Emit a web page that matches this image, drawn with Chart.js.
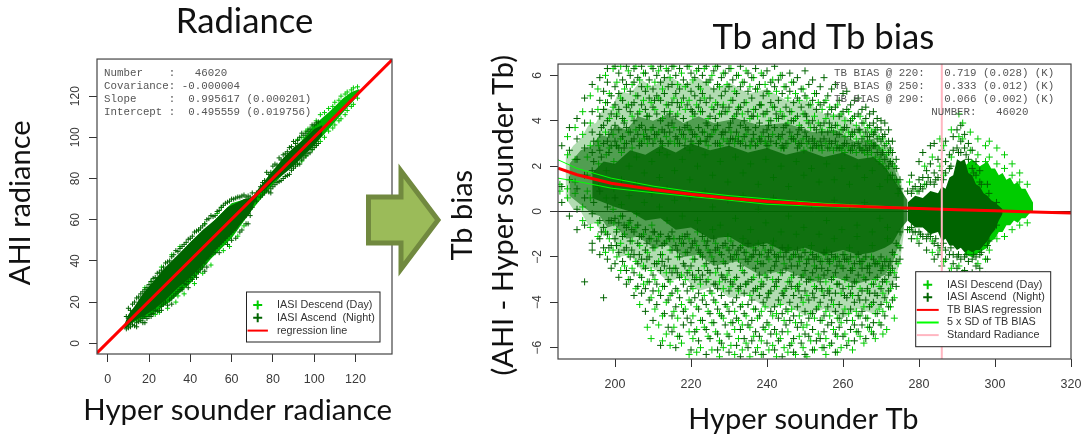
<!DOCTYPE html>
<html>
<head>
<meta charset="utf-8">
<title>Radiance and Tb bias</title>
<script src="https://cdn.jsdelivr.net/npm/chart.js@4/dist/chart.umd.min.js"></script>
<style>
    html, body { margin: 0; padding: 0; background: #fff; }
    body { position: relative; width: 1081px; height: 434px; overflow: hidden; }
    canvas { position: absolute; top: 0; }
    #radianceChart { left: 0; }
    #biasChart { left: 440px; }
    #arrow { position: absolute; left: 360px; top: 160px; }
</style>
</head>
<body>
<canvas id="radianceChart" width="400" height="434"></canvas>
<canvas id="biasChart" width="641" height="434"></canvas>
<svg id="arrow" width="90" height="120"><path d="M8.5 37 H41 V11 L78 60 L41 109 V83 H8.5 Z" fill="#9bbb59" stroke="#71893f" stroke-width="5"/></svg>
<script>
// left panel, axes
const radianceTicks = [0, 20, 40, 60, 80, 100, 120];
// regression line
const regressionX = [-5.2, 137.8];
const regressionY = [-4.7, 137.7];
// left panel, outline of the solid cloud
const nightBandX = [8, 10, 13, 17, 22, 28, 34, 40, 46, 52, 58, 62, 66, 69, 71, 73, 77, 81, 85, 90, 95, 100, 104];
const nightBandUp = [9, 14, 18, 24, 30, 37, 43, 49, 55, 60, 66, 68, 70, 70.5, 72, 75, 80, 85, 90, 95, 99, 104, 106];
const nightBandLow = [7, 8, 11, 13, 16, 21, 27, 32, 38, 45, 51, 55, 60, 63, 68, 72, 75, 79, 82, 86, 91, 96, 101];
const dayBandX = [12, 20, 30, 40, 50, 60, 70, 80, 92, 100, 108, 114, 118, 122];
const dayBandUp = [16, 27, 38, 49, 58, 68, 71, 84, 96, 106, 113, 119, 122, 123.5];
const dayBandLow = [10, 13, 20, 29, 41, 51, 65, 77, 89, 96, 105, 112, 116.5, 121];
// left panel, crosses along the rim of the cloud, one row per column: x, then y
const radianceDayRim = [
    [18,27],[21,30],[26,37],[31,43],[35,47],[44,55],[47,58],[53,63],[55,66],[23,14],[29,17],[34,23],[37,24],[42,29],[46,34],[50,38],[56,45],[59,47],[63,52],[66,57],
    [92,99,87],[94,100,88.5],[96,103,91],[97,104],[99,105,94],[101,108,96],[103,111,98],[105,112,100],[107,114,103],[109,115,104.5],[110,117,106],[112,118,108],[113,120,109],[115,121,111],[116,122,113],[118,123,115],[119,124,116],[121,124.5,119],[33,20],[25,15]
];
const radianceNightRim = [
    [9,13,7],[10,17,7.5],[11,16,8],[12,19,9],[13,20,8.5],[14,22,8,10],[15,22.5,10.5],[16,21,24,11],[17,25,10,12],[18,26,10,13],[19,27,12],[20,28.5,13],[21,30,13,14],[22,31.5,14.5],[23,32,16],[24,34,15.5],[25,34.5,16],[26,35.5,16,18],[27,37,19],[28,39,20],[29,39.5,18.5],[30,40,21],[31,42,19,22],[32,43,23],[33,45,24],[34,44.5,25],[35,46,26],[36,47,26,27],[37,48,29],[38,49,28.5],[39,50.5,27,30],[40,51,32],[41,52,31],[42,54,33],[43,54.5,32,35],[44,55,34.5],[45,56,36],[46,57,37],[47,58,35,39],[48,60,37,41],[49,60.5,42],[50,62,43],[51,61.5,44],[52,62,44,46],[53,64,47],[54,64.5,44,48],[55,66,49],[56,67,50],[57,68,51],[58,68.5,48,52],[59,69,53],[60,70,50,54],[61,70,55],[62,70.5,51,56],[63,71,58],[64,71,54,59],[65,71.5,55,60],[66,72,61],[67,71,58,62],[68,71.5,58,64],[69,71,62],[70,73,66],[72,73,69],[74,76,71],[75,78,72],[76,79,73],[77,83,74],[78,82,73.5],[79,83,73,75],[80,86,76],[81,87,77],[82,86.5,78],[83,90,78.5],[84,89,79],[85,91.5,80],[86,92,81],[87,93,81.5],[88,95,82],[89,95.5,84],[90,98,85],[91,97,86],[92,98.5,87],[93,100,87],[94,102,89],[95,101,90],[96,102,91],[97,103,92],[98,104,92.5],[99,106,94],[100,106,95],[101,107,96],[102,107.5,97]
];
// right panel, axes
const biasXTicks = [200, 220, 240, 260, 280, 300, 320];
const biasYTicks = [-6, -4, -2, 0, 2, 4, 6];
// regression curve and its spread
const curveX = [185, 190, 199, 210, 220, 230, 240, 255, 262, 270, 280, 286, 290, 300, 310, 320];
const curveY = [1.91, 1.62, 1.25, 0.97, 0.76, 0.59, 0.44, 0.29, 0.24, 0.19, 0.13, 0.1, 0.08, 0.03, -0.02, -0.06];
const spreadUp = [2.28, 1.9, 1.47, 1.12, 0.88, 0.7, 0.56, 0.36, 0.3, 0.23, 0.15, 0.11, 0.09, 0.04, -0.01, -0.05];
const spreadLow = [1.47, 1.33, 1.03, 0.83, 0.66, 0.5, 0.32, 0.22, 0.18, 0.15, 0.11, 0.09, 0.07, 0.02, -0.03, -0.07];
// standard radiance marker and zero line
const standardTb = [286, 286];
const standardY = [-6.5, 6.5];
const zeroX = [185, 320];
const zeroY = [0, 0];
// right panel, rough outline of the dense parts of the cloud
const hazeX = [187, 189, 191, 193, 195, 197, 199, 201, 204, 207, 210, 214, 218, 222, 226, 230, 235, 240, 245, 250, 255, 260, 264, 268, 271, 273, 275, 276];
const hazeUp = [2.4, 2.9, 3.2, 3.8, 3.9, 4.6, 4.5, 5.3, 5.2, 5.8, 5.5, 6, 5.6, 5.9, 5.4, 5.7, 5.2, 5.4, 4.9, 4.9, 4.3, 4.3, 3.7, 3.7, 3, 2.5, 1.5, 0.8];
const hazeLow = [0.6, 0.1, 0, -0.6, -0.5, -1.1, -1, -2, -1.9, -2.6, -2.5, -3.1, -2.9, -3.5, -3.3, -3.8, -3.7, -4.3, -4.1, -4.6, -4.3, -4.7, -4.3, -4.5, -4, -3.4, -2.2, -1];
const midX = [188, 191, 194, 196, 198, 200, 203, 206, 210, 214, 218, 222, 226, 232, 238, 245, 252, 258, 263, 268, 271, 273, 275, 276];
const midUp = [2.1, 2.7, 2.9, 3.4, 3.3, 3.8, 3.6, 4.2, 4, 4.3, 3.9, 4.2, 3.9, 4.1, 3.8, 3.9, 3.5, 3.6, 3.1, 3.2, 2.6, 2.1, 1.2, 0.7];
const midLow = [0.7, 0.3, -0.1, -0.2, -0.7, -0.6, -1.2, -1.1, -1.6, -1.5, -2, -1.9, -2.4, -2.2, -2.8, -2.6, -3.1, -2.9, -3.2, -3, -2.8, -2.3, -1.3, -0.8];
const coreX = [194, 197, 200, 204, 208, 212, 216, 220, 225, 230, 235, 240, 245, 250, 255, 260, 264, 268, 271, 273, 275, 277];
const coreUp = [1.7, 2.2, 2.1, 2.7, 2.5, 2.9, 2.6, 3, 2.7, 2.9, 2.6, 2.8, 2.5, 2.7, 2.4, 2.6, 2.3, 2.4, 2, 1.5, 1, 0.5];
const coreLow = [0.6, 0.4, 0.2, 0, -0.4, -0.3, -0.8, -0.7, -1.2, -1.1, -1.6, -1.4, -1.8, -1.6, -1.9, -1.7, -1.9, -1.8, -1.6, -1.4, -0.8, -0.4];
const warmNightX = [277, 279, 281, 283, 285, 286, 287, 288, 289, 290, 291, 292, 293, 294, 295, 296, 297, 298, 299, 300, 301, 302];
const warmNightUp = [0.4, 0.7, 0.6, 0.9, 0.8, 1.1, 1, 1.5, 1.6, 2.3, 2.2, 2.3, 1.7, 1.6, 1.2, 1.1, 0.8, 0.7, 0.5, 0.4, 0.25, 0.1];
const warmNightLow = [-0.4, -0.7, -0.7, -1, -0.9, -1.3, -1.2, -1.5, -1.5, -1.7, -1.6, -1.8, -1.7, -1.8, -1.7, -1.7, -1.5, -1.3, -1, -0.8, -0.4, -0.1];
const warmDayX = [292, 294, 296, 298, 299, 300, 301, 302, 303, 304, 305, 306, 307, 308, 309, 310];
const warmDayUp = [2, 2.3, 2, 2.2, 1.9, 1.9, 1.6, 1.7, 1.4, 1.5, 1.2, 1.3, 1, 1, 0.7, 0.4];
const warmDayLow = [-1.9, -2, -1.8, -1.6, -1.3, -1.2, -0.9, -0.9, -0.6, -0.6, -0.4, -0.5, -0.3, -0.3, -0.1, 0];
// right panel crosses, one row per Tb column: x, then the biases seen there
const biasNightColumns = [
    [186,2.9,1.1,0.4],[188,3.7,2.7,1.4,-0.2],[190,4.1,3.2,2.3,1,0.1,-0.8],[192,5,3.9,2.8,1.6,0.6,-0.6,-3.1],
    [194,5.6,4.4,3.5,2.6,1.8,-0.1,-1.4,-1.7],[196,5.9,4.9,4.2,3.4,2.7,0.9,-0.4,-1.2,-1.9],[197,5.3,4.5,3.8,3,-0.7,-1.6,-3.8],
    [198,6.3,5.7,4.8,4,3.1,0.2,-1,-2.1],[199,5.1,4.3,3.6,2.9,-0.4,-1.5,-2.5],[200,6.4,5.5,4.7,3.8,3.1,0.6,-0.3,-1.2,-2.3],
    [201,6.1,5.2,4.5,3.6,2.8,-0.5,-1.8,-2.9],[202,5.8,4.9,4.1,3.3,-0.2,-1.1,-2.2],[203,6.4,5.6,4.6,3.7,3,-0.7,-1.6,-2.6,-3.2],
    [204,6,5.3,4.4,3.5,-0.4,-1.3,-2,-3],[205,6.3,5.7,4.8,4,3.2,-0.9,-1.9,-2.7,-3.7],[206,5.9,5.1,4.3,3.4,-0.6,-1.4,-2.3,-3.3],
    [207,6.4,5.5,4.7,3.8,3,-1.1,-2.1,-2.9,-3.6],[208,6.1,5.3,4.5,3.6,-0.8,-1.7,-2.5,-3.4,-4.4],[209,5.8,5,4.2,3.2,-1.2,-2,-3.1,-3.9],
    [210,6.3,5.4,4.6,3.7,3,-0.9,-1.6,-2.8,-3.5,-4.8],[211,6,5.1,4.3,3.4,-1.3,-2.3,-3.2,-4.1],[212,6.4,5.7,4.9,4,3.1,-1,-1.9,-2.6,-3.7,-5.9],
    [213,5.9,5.2,4.4,3.5,-1.4,-2.4,-3.3,-4.5],[214,6.2,5.5,4.7,3.8,3,-1.1,-2.1,-3,-3.9,-5.1],[215,6.4,5.6,4.8,3.9,-0.9,-1.7,-2.7,-3.6,-4.6,-5.3],
    [216,6,5.2,4.2,3.3,-1.5,-2.5,-3.4,-4.2,-6],[217,6.3,5.4,4.6,3.6,3,-1.2,-2,-2.9,-3.8,-5.5],[218,5.8,5,4.1,3.4,-1.4,-2.3,-3.2,-4.4,-5],
    [219,6.4,5.6,4.7,3.8,-1,-1.8,-2.7,-3.5,-4.7],[220,6.1,5.3,4.5,3.6,3.1,-1.6,-2.4,-3.3,-4,-4.9,-6.1],[221,5.9,5.1,4.3,3.4,-1.3,-2.1,-3,-3.8,-5.3],
    [222,6.3,5.5,4.6,3.7,3,-1.7,-2.6,-3.6,-4.3,-5.7],[223,6,5.2,4.4,3.5,-1.1,-2,-2.8,-3.9,-4.8],[224,6.4,5.7,4.8,3.9,3.1,-1.5,-2.3,-3.1,-4.1,-5.2,-6.3],
    [225,5.8,5,4.2,3.3,-1.8,-2.7,-3.5,-4.5,-5.6],[226,6.2,5.4,4.5,3.6,-1.2,-2.2,-3.2,-3.9,-4.9],[227,6.4,5.6,4.7,3.8,3,-1.6,-2.5,-3.4,-4.3,-5.4,-6.1],
    [228,5.9,5.1,4.3,3.4,-1.9,-2.8,-3.7,-4.6,-5.8],[229,6.1,5.3,4.4,3.5,-1.4,-2.3,-3,-4.1,-5],[230,6.3,5.5,4.6,3.7,3,-1.7,-2.6,-3.5,-4.4,-5.5,-6.2],
    [231,5.8,4.9,4.1,3.2,-1.5,-2.1,-3.2,-4,-4.9],[232,6,5.2,4.3,3.5,-1.9,-2.9,-3.8,-4.7,-5.9],[233,6.4,5.5,4.6,3.8,3,-1.6,-2.4,-3.3,-4.2,-5.2,-6.4],
    [234,5.7,4.8,4,3.3,-1.8,-2.7,-3.6,-4.5,-5.6],[235,6.1,5.3,4.4,3.6,-1.4,-2.2,-3.1,-4.1,-5,-6],[236,5.9,5,4.2,3.1,-2,-3,-3.9,-4.8,-5.7],
    [237,6.3,5.4,4.5,3.7,2.9,-1.7,-2.5,-3.4,-4.3,-5.3,-6.2],[238,5.6,4.7,3.9,3.2,-1.9,-2.8,-3.7,-4.6,-5.5],[239,6,5.1,4.3,3.5,-1.5,-2.3,-3.2,-4,-5.1,-6.3],
    [240,6.2,5.3,4.4,3.6,2.9,-2,-2.9,-3.8,-4.9,-5.8],[241,5.7,4.8,4,3.1,-1.7,-2.6,-3.5,-4.4,-5.4],[242,6.4,5.5,4.6,3.7,-1.9,-2.4,-3.3,-4.2,-5.2,-6.1],
    [243,5.8,4.9,4.1,3.3,-2,-3,-3.9,-4.7,-5.7],[244,6,5.2,4.2,3.4,2.9,-1.6,-2.7,-3.6,-4.5,-5.3,-6.4],[245,5.5,4.6,3.8,3,-1.8,-2.5,-3.4,-4.3,-5],
    [246,6.1,5.3,4.4,3.5,-2.1,-3.1,-4,-4.8,-5.9],[247,5.7,4.8,4,3.2,-1.9,-2.8,-3.7,-4.6,-5.6,-6.2],[248,5.9,5,4.2,3.4,2.8,-1.7,-2.4,-3.3,-4.2,-5.1],
    [249,5.4,4.6,3.7,3,-2,-2.9,-3.8,-4.9,-5.8],[250,6.2,5.1,4.3,3.5,-1.8,-2.6,-3.5,-4.4,-5.4,-6.3],[251,5.6,4.7,3.9,3.1,-2.1,-3,-3.9,-4.7,-5.5],
    [252,5.8,4.9,4,3.2,2.8,-1.9,-2.7,-3.6,-4.5,-5.2,-6.1],[253,5.2,4.5,3.6,2.9,-2,-2.5,-3.4,-4.3,-5.7],[254,5.5,4.7,3.8,3.1,-2.2,-3.1,-4,-4.8,-5.6],
    [255,5.9,4.8,3.9,3.2,-1.8,-2.8,-3.7,-4.6,-5.3,-6],[256,5.1,4.3,3.5,2.8,-2.1,-2.6,-3.5,-4.2,-5],[257,5.4,4.5,3.7,3,-1.9,-3,-3.9,-4.9,-5.8],
    [258,5.6,4.6,3.8,3.1,-2,-2.7,-3.6,-4.4,-5.4,-6.2],[259,4.9,4.2,3.4,2.8,-2.2,-3.2,-4.1,-4.7,-5.1],[260,5.2,4.4,3.6,2.9,-1.9,-2.5,-3.4,-4.5,-5.5],
    [261,5.3,4.5,3.7,3,-2.1,-2.9,-3.8,-4.8,-5.9],[262,4.7,4,3.3,2.7,-2,-2.6,-3.6,-4.3,-5.2],[263,4.9,4.2,3.5,2.9,-2.3,-3.1,-4,-5,-5.7],
    [264,5,4.3,3.6,3,-1.9,-2.8,-3.7,-4.6,-5.3],[265,4.5,3.9,3.2,2.7,-2.2,-2.5,-3.5,-4.4,-5],[266,4.6,4.1,3.5,2.9,-2,-3,-3.9,-4.7,-5.6],
    [267,4.3,3.8,3.3,2.8,-2.4,-2.7,-3.6,-4.2,-5.1],[268,4.4,3.9,3.4,2.9,-2.1,-3.2,-4,-4.9,-5.4],[269,4.1,3.7,3.2,2.6,-2.3,-2.9,-3.7,-4.5],
    [270,4,3.6,3.1,2.5,-2,-2.6,-3.4,-4.1,-5],[271,3.9,3.4,2.9,2.3,-2.2,-3,-3.8,-4.6],[272,3.6,3.1,2.6,2,-2.4,-2.8,-3.5,-4.2],
    [273,3.1,2.6,2.1,1.6,-1.8,-2.5,-3.2,-3.9],[274,2.3,1.9,1.4,-1.4,-2.2,-2.9,-3.3],[275,1.4,1,-0.9,-1.6,-2.1],
    [277,0.9,-0.8],[278,1.6,0.8,-0.7,-1.2],[279,1.1,-0.9],[280,2.2,1.4,0.9,-0.9,-1.4],[281,2.6,1.5,1,-1.1],[282,1.8,1.2,-1.2,-1.7],[283,2.9,2.1,1.3,-1.1],
    [284,3,1.7,1.2,-1.4,-2.1],[285,2.3,1.5,-1.5,-1.9],[286,2.7,1.8,-1.6,-2.4],[287,3.1,2.2,1.7,-1.7,-2.1],[288,2.5,1.9,-1.9,-2.7,-3],
    [289,3.3,2.7,-1.9,-2.3],[290,3.6,2.8,-2,-2.5,-3.1],[291,3.8,3.1,2.6,-2.1,-2.8],[292,3.4,2.8,-2,-2.6],[293,3,2.3,-2.2,-3],
    [294,2.7,1.9,-2.1,-2.7],[295,2.2,1.6,-2,-2.4],[296,1.8,1.3,-1.9,-2.5],[298,1.2,-1.5,-2.1]
];
const biasDayColumns = [
    [185.5,1.2,0.9],[187.5,3.3,2.5,1,0.6],[189.5,3.7,2.3,1.3,0.8],[191.5,4.4,3.4,0.2,-0.4],[193.5,5.1,3.9,2.9,0.6,-0.7],
    [195.5,5.4,4.5,3.1,-0.5,-1.1],[197.5,6,4.8,3.5,-0.9,-1.8],[198.5,5.2,4.1,2.8,-1.2],[199.5,6.3,4.6,3.4,0.1,-1.7],[200.5,5.7,4.3,2.9,-0.8,-2],
    [201.5,6.4,5,3.2,-0.2,-1.4,-2.6],[202.5,5.4,4,3,-1,-2.4],[203.5,6.2,4.7,3.5,-0.6,-1.9,-3],[204.5,5.6,4.2,2.8,-1.3,-2.5],[205.5,6.4,5.1,3.6,-0.7,-2.2,-3.4],
    [206.5,5.8,4.4,3.1,-1.5,-2.8,-4.1],[207.5,6.1,4.9,3.4,-1,-2.4,-3.2],[208.5,5.5,4.2,3,-1.8,-3.1,-5.1],[209.5,6.4,4.8,3.6,-1.2,-2.6,-3.8,-5.6],[210.5,5.7,4.5,3.2,-1.6,-3,-4.3],
    [211.5,6.2,5,3.5,-1.1,-2.2,-3.5,-5],[212.5,5.4,4.1,2.9,-1.9,-3.3,-4.6,-5.7],[213.5,6.3,4.7,3.3,-1.3,-2.7,-4,-5.4],[214.5,5.9,4.4,3.1,-1.7,-3.1,-3.7,-5.9],[215.5,6.4,5,3.7,-1.2,-2.5,-4.4,-5.1],
    [216.5,5.6,4.3,3,-2,-3.5,-4.7,-5.5],[217.5,6.1,4.8,3.4,-1.4,-2.8,-4.1,-5.8],[218.5,5.5,4.5,3.2,-1.8,-3,-4.3],[219.5,6.4,4.9,3.6,-1.2,-2.6,-3.9,-5.3,-6.3],[220.5,5.8,4.2,3,-2.1,-3.4,-4.6,-5.6],
    [221.5,6.2,4.7,3.3,-1.5,-2.9,-4.2,-5.2,-6.2],[222.5,5.4,4.4,3.1,-1.9,-3.2,-4.8,-6],[223.5,6.3,5,3.5,-1.3,-2.4,-3.7,-5.1],[224.5,5.7,4.1,2.9,-1.7,-3,-4.4,-5.5],[225.5,6,4.6,3.4,-2,-3.6,-4.9,-6.1],
    [226.5,6.4,4.8,3.6,-1.4,-2.7,-4,-5.3],[227.5,5.5,4.3,3,-1.8,-3.1,-4.5,-5.7,-6.4],[228.5,6.1,4.7,3.2,-2.2,-3.4,-4.7,-6],[229.5,5.6,4.4,3.1,-1.6,-2.8,-4.2,-5.4],[230.5,6.3,4.9,3.5,-1.3,-3.3,-4.9,-5.9],
    [231.5,5.3,4.2,3,-1.9,-3,-4.4,-5.2,-6.3],[232.5,6,4.6,3.3,-2.1,-3.5,-4.8,-5.6],[233.5,5.7,4.3,3.1,-1.5,-2.6,-4.1,-5,-6.1],[234.5,6.2,4.8,3.4,-1.8,-3.2,-4.6,-5.8],[235.5,5.5,4.1,2.9,-2,-3.7,-5.1,-6.4],
    [236.5,5.9,4.5,3.2,-1.6,-2.9,-4.3,-5.5],[237.5,5.4,4.2,3,-2.2,-3.4,-4.7,-6],[238.5,6.1,4.7,3.3,-1.9,-3.1,-4.4,-5.7,-6.3],[239.5,5.6,4.3,3.1,-1.7,-2.8,-4.2,-5.2],[240.5,5.2,4,2.9,-2.1,-3.6,-5,-6.1],
    [241.5,5.8,4.6,3.4,-1.5,-3,-4.6,-5.9],[242.5,5.3,4.1,3,-2,-3.3,-4.5,-5.4,-6.4],[243.5,6,4.4,3.2,-1.8,-2.7,-4.1,-5.6],[244.5,5.5,4.2,2.8,-2.3,-3.5,-4.8,-6],[245.5,5,3.9,3,-1.6,-3.1,-4.4,-5.3,-6.2],
    [246.5,5.7,4.4,3.3,-2,-2.9,-4.3,-5.8],[247.5,5.2,4.1,3.1,-1.9,-3.4,-4.9,-6.3],[248.5,4.9,3.8,2.9,-2.2,-3.2,-4.6,-5.5],[249.5,5.4,4.3,3.2,-1.7,-2.8,-4,-5.1,-6],[250.5,5,4,3,-2.1,-3.7,-5,-6.4],
    [251.5,4.7,3.7,2.8,-1.8,-3,-4.5,-5.7],[252.5,5.2,4.2,3.1,-2.4,-3.3,-4.7,-6.1],[253.5,4.8,3.9,2.9,-2,-2.9,-4.2,-5.4],[254.5,4.5,3.6,2.7,-2.2,-3.5,-4.8,-6],[255.5,4.9,4.1,3,-1.9,-3.1,-4.4,-5.6,-6.3],
    [256.5,4.6,3.7,2.8,-2.3,-3.4,-4.6,-5.9],[257.5,4.2,3.5,2.7,-2.1,-2.9,-4.1,-5.2],[258.5,4.7,3.8,2.9,-2,-3.2,-4.7,-5.5,-6.2],[259.5,4.3,3.6,2.8,-2.4,-3.6,-4.9,-6],[260.5,4,3.3,2.6,-1.9,-3,-4.3,-5.4],
    [261.5,4.4,3.5,2.8,-2.2,-3.3,-4.5,-5.7],[262.5,4.1,3.4,2.7,-2.5,-3.7,-4.8,-6.1],[263.5,3.8,3.2,2.6,-2,-3.1,-4.4,-5.3],[264.5,4.2,3.5,2.8,-2.3,-3.4,-4.6,-5.5],[265.5,3.9,3.3,2.7,-2.1,-2.9,-4.2,-5.8],
    [266.5,3.7,3.1,2.5,-2.4,-3.5,-4.7,-5.1],[267.5,3.5,3,2.6,-2,-3.2,-4.1,-5.3],[268.5,3.6,2.9,2.4,-2.3,-3,-4.5,-5.6],[269.5,3.3,2.8,2.2,-2.2,-3.3,-4.3,-4.9],[270.5,3.2,2.7,2.1,-2.5,-3.6,-4.4,-5.4],
    [271.5,3,2.5,1.9,-2.1,-3.1,-4,-5.2],[272.5,2.7,2.2,1.6,-2.6,-3.4,-4.2],[273.5,2,1.4,-1.9,-2.7,-3.8,-4.7],[274.5,1.3,0.8,-1.5,-2.3],
    [277.5,1.3,-0.8],[279.5,0.9,-1.2],[281.5,2,1.2],[283.5,2.4,-1.3,-1.8],[285.5,3.2,2,-1.7],[286.5,2.9,1.6,-2.2],[288.5,3.6,2.4,-2.5],
    [290.5,4.3,3.3,-2.4],[291.5,3.9,3.2,-2.7],[293.5,3.5,2.7,-2.9],[295.5,3.2,2.5,-2.3],[297.5,2.9,2.2,-2.1,-2.8],[298.5,3.1,2.4,-1.7],[300.5,2.8,2.1,-1.2],
    [302.5,2.5,1.9,-1.1],[304.5,2.1,1.6,-0.8],[306.5,1.7,1.3,-0.6],[308.5,1.2,-0.5]
];
// second pass over the busy middle of the cloud
const biasNightInner = [
    [194.4,3.1,2.2,0.4],[196.4,3.7,2.4,-0.9],[198.4,3.4,2.6,-1.6,-0.4],[200.4,4.2,2.9,-1.5,-0.9],[202.4,3.9,2.8,-1.7,-0.6],[204.4,4.7,3.1,-0.8,-1.7],[206.4,3.7,2.9,-1.1,-1.9],[208.4,4.2,3.3,-1.4,-2.1],
    [210.4,4.9,3.4,-0.9,-2.3],[212.4,3.6,3,-1.5,-2.2],[214.4,4.3,3.5,-1.2,-2.5],[216.4,4.8,3.2,-1.7,-2.7],[218.4,3.7,2.9,-1.1,-2.4],[220.4,4.4,3.4,-1.4,-2.8],[222.4,4.9,3.1,-1.8,-3],[224.4,3.8,3.3,-1.3,-2.6],
    [226.4,4.1,3,-1.7,-3.2],[228.4,4.6,3.5,-1.5,-2.9],[230.4,3.9,3.2,-2,-3.1],[232.4,4.5,3.1,-1.7,-3.4],[234.4,3.7,2.9,-2.1,-3.2],[236.4,4.2,3.4,-1.9,-3.5],[238.4,4.7,3.1,-2.3,-3.3],[240.4,3.8,3.3,-1.8,-3.6],
    [242.4,4.3,3,-2.2,-3.1],[244.4,3.7,2.8,-2,-3.7],[246.4,4,3.2,-2.4,-3.3],[248.4,3.6,3,-2,-3.5],[250.4,4.2,3.3,-2.3,-3.1],[252.4,3.7,3,-2.1,-3.8],[254.4,3.5,2.9,-2.5,-3.4],[256.4,3.9,3.1,-2.2,-3.6],
    [258.4,3.4,2.8,-2.4,-3.2],[260.4,3.7,3,-2.1,-3.7],[262.4,3.5,2.9,-2.6,-3.3],[264.4,3.6,2.8,-2.2,-3.9],[266.4,3.3,2.7,-2.5,-3.4],[268.4,3.5,2.9,-2.3,-3.6],[270.4,3.3,2.6,-2.4,-3.1],[272.4,2.8,2.2,-2.2,-2.7],
    [278.4,1,-0.9],[280.4,1.1,-1],[282.4,1.5,-1],[284.4,1.4,-1.2],[286.4,1.4,-1.4],[288.4,2,-1.6],[290.4,2.6,-1.9],[292.4,2.5,-1.9],[294.4,1.7,-1.9],[296.4,1.2,-1.8],[298.4,0.8,-1.3],[300.4,0.4,-0.6]
];
const biasDayInner = [
    [192.7,2.4,1.6,0.9],[195.7,2.1,1.1,2.9],[197.7,1.8,0.6,2.5],[199.7,2.2,1,-0.5],[201.7,1.4,0.3,2.6],[203.7,2,0.7,-0.5],[205.7,2.4,1.2,-0.1],[207.7,1.7,0.4,3.2],
    [209.7,2.2,0.8,-0.6],[211.7,1.5,0.2,2.6],[213.7,2.5,1,-0.4],[215.7,1.8,0.5,3],[217.7,2.3,-0.2,-1.1],[219.7,1.4,0.6,2.7],[221.7,2,-0.4,-0.9],[223.7,2.5,0.9,3.1],
    [225.7,1.6,0.2,-0.8],[227.7,2.2,-0.6,2.9],[229.7,1.3,0.5,-1.1],[231.7,2.4,-0.3,3.2],[233.7,1.7,0.7,-1.2],[235.7,2.1,-0.8,2.9],[237.7,1.2,0.1,-1.4],[239.7,2.3,-0.5,3],
    [241.7,1.5,0.6,-1.3],[243.7,2,-0.9,2.8],[245.7,1.1,-0.2,-1.6],[247.7,2.2,0.4,-1],[249.7,1.6,-0.7,2.7],[251.7,1.9,0.3,-1.5],[253.7,1.3,-1,2.8],[255.7,2.1,-0.4,-1.7],
    [257.7,1.4,0.5,-1.2],[259.7,1.9,-0.8,2.7],[261.7,1.2,0.2,-1.6],[263.7,2,-0.6,-1.1],[265.7,1.5,0.4,2.6],[267.7,1.8,-0.9,-1.5],[269.7,1.1,-0.3,2.3],[271.7,1.4,-0.7,-1.2]
];
// text inside the plots
const radianceNotes = ["Number    :   46020", "Covariance: -0.000004", "Slope     :  0.995617 (0.000201)", "Intercept :  0.495559 (0.019756)"];
const biasNotes = ["TB BIAS @ 220:   0.719 (0.028) (K)", "TB BIAS @ 250:   0.333 (0.012) (K)", "TB BIAS @ 290:   0.066 (0.002) (K)", "               NUMBER:   46020"];
const radianceLegend = [["IASI Descend (Day)", "cross", "#00cc00"], ["IASI Ascend  (Night)", "cross", "#006400"], ["regression line", "line", "#ff0000"]];
const biasLegend = [["IASI Descend (Day)", "cross", "#00cc00"], ["IASI Ascend  (Night)", "cross", "#006400"], ["TB BIAS regression", "line", "#ff0000"], ["5 x SD of TB BIAS", "line", "#00ff00"], ["Standard Radiance", "line", "#ffb6c1"]];

const titleFont = "Lato, 'Open Sans', sans-serif";
const plotFont = "'Liberation Sans', Arial, sans-serif";
const inkColor = "#3a3a3a";

function zip(xs, ys) {
    return xs.map((x, i) => ({ x: x, y: ys[i] }));
}

function fromColumns(...tables) {
    const points = [];
    tables.forEach(columns => columns.forEach(col => {
        col.slice(1).forEach(y => points.push({ x: col[0], y: y }));
    }));
    return points;
}

function crosses(label, data, color, radius, order) {
    return {
        label: label,
        data: data,
        pointStyle: "cross",
        pointRadius: radius,
        pointBorderColor: color,
        pointBorderWidth: 1,
        showLine: false,
        order: order
    };
}

function line(label, data, color, width, order) {
    return {
        label: label,
        data: data,
        showLine: true,
        borderColor: color,
        borderWidth: width,
        pointRadius: 0,
        fill: false,
        order: order
    };
}

// two outline datasets, the first one filled down to the second
function band(label, xs, up, low, color, order) {
    const upper = line(label + " upper", zip(xs, up), "transparent", 0, order);
    upper.fill = { target: "+1", above: color, below: color };
    const lower = line(label + " lower", zip(xs, low), "transparent", 0, order);
    return [upper, lower];
}

// frame, note text and the legend box sit on top of the data
function overlay(notes, noteX, noteY, legend, box) {
    return {
        id: "overlay",
        afterDatasetsDraw(chart) {
            const ctx = chart.ctx;
            const area = chart.chartArea;
            ctx.save();
            ctx.strokeStyle = "#444";
            ctx.lineWidth = 1.2;
            ctx.strokeRect(area.left, area.top, area.right - area.left, area.bottom - area.top);

            ctx.fillStyle = "#555";
            ctx.font = "10.8px 'Liberation Mono', monospace";
            ctx.textAlign = "left";
            ctx.textBaseline = "middle";
            notes.forEach((text, i) => ctx.fillText(text, noteX, noteY + i * 12.8));

            ctx.fillStyle = "#fff";
            ctx.fillRect(box.x, box.y, box.w, box.h);
            ctx.strokeStyle = "#222";
            ctx.lineWidth = 1;
            ctx.strokeRect(box.x, box.y, box.w, box.h);
            ctx.font = "10.8px " + plotFont;
            legend.forEach((entry, i) => {
                const y = box.y + box.first + i * box.step;
                ctx.strokeStyle = entry[2];
                ctx.lineWidth = 2;
                ctx.beginPath();
                if (entry[1] === "cross") {
                    ctx.moveTo(box.mark - 4.5, y);
                    ctx.lineTo(box.mark + 4.5, y);
                    ctx.moveTo(box.mark, y - 4.5);
                    ctx.lineTo(box.mark, y + 4.5);
                } else {
                    ctx.moveTo(box.x + 1, y);
                    ctx.lineTo(box.mark * 2 - box.x - 1, y);
                }
                ctx.stroke();
                ctx.fillStyle = "#333";
                ctx.fillText(entry[0], box.text, y);
            });
            ctx.restore();
        }
    };
}

function axis(min, max, ticks, titleText, titleOpts, extra) {
    return Object.assign({
        type: "linear",
        min: min,
        max: max,
        afterBuildTicks(scale) {
            scale.ticks = ticks.map(v => ({ value: v }));
        },
        border: { display: false },
        grid: { drawOnChartArea: false, drawTicks: true, tickLength: 8, color: "#333" },
        title: Object.assign({ display: true, text: titleText, color: "#111" }, titleOpts)
    }, extra);
}

function xAxis(min, max, ticks, height, titleText, titleOpts) {
    return axis(min, max, ticks, titleText, titleOpts, {
        afterFit(scale) {
            scale.height = height;
            scale.paddingLeft = 0;
            scale.paddingRight = 0;
        },
        ticks: { autoSkip: false, maxRotation: 0, padding: 10.5, color: inkColor, font: { family: plotFont, size: 12.5 } }
    });
}

function yAxis(min, max, ticks, width, pad, titleText, titleOpts) {
    return axis(min, max, ticks, titleText, titleOpts, {
        afterFit(scale) {
            scale.width = width;
            scale.paddingTop = 0;
            scale.paddingBottom = 0;
        },
        ticks: {
            autoSkip: false,
            minRotation: 90,
            maxRotation: 90,
            crossAlign: "center",
            padding: pad,
            color: inkColor,
            font: { family: plotFont, size: 12 },
            callback: v => String(v).replace("-", "\u2212")
        }
    });
}

function baseOptions(rightPad, titles, xScale, yScale) {
    return {
        responsive: false,
        animation: false,
        events: [],
        layout: { padding: { left: 0, right: rightPad, top: 0, bottom: 0 } },
        plugins: Object.assign({ legend: { display: false }, tooltip: { enabled: false } }, titles),
        scales: { x: xScale, y: yScale }
    };
}

new Chart(document.getElementById("radianceChart"), {
    type: "scatter",
    data: {
        datasets: [
            ...band("Day cloud", dayBandX, dayBandUp, dayBandLow, "#00b400", 6),
            crosses("IASI Descend (Day)", fromColumns(radianceDayRim), "#00cc00", 2.5, 5),
            ...band("Night cloud", nightBandX, nightBandUp, nightBandLow, "#006400", 4),
            crosses("IASI Ascend (Night)", fromColumns(radianceNightRim), "#006400", 2.5, 3),
            line("regression line", zip(regressionX, regressionY), "#ff0000", 3, 1)
        ]
    },
    options: baseOptions(8,
        {
            title: { display: true, text: "Radiance", color: "#111", fullSize: false, font: { family: titleFont, size: 34.7, weight: "normal" }, padding: { top: 1, bottom: 16.4 } },
            // wider than the plot, a scale title would get squeezed, so it is a subtitle ending at the plot edge
            subtitle: { display: true, position: "bottom", align: "end", text: "Hyper sounder radiance", color: "#111", font: { family: titleFont, size: 29.4, weight: "normal", lineHeight: 1 }, padding: { top: 6, bottom: 8.6 } }
        },
        xAxis(-5.2, 137.7, radianceTicks, 36, "", { display: false }),
        yAxis(-5.2, 138, radianceTicks, 97, 3, " AHI radiance", { font: { family: titleFont, size: 29, lineHeight: 1 }, padding: { top: 6, bottom: 0 } })
    ),
    plugins: [overlay(radianceNotes, 104, 73.5, radianceLegend, { x: 246.5, y: 292, w: 133.5, h: 50, mark: 257.7, text: 277, first: 13, step: 12.8 })]
});

new Chart(document.getElementById("biasChart"), {
    type: "scatter",
    data: {
        datasets: [
            line("zero", zip(zeroX, zeroY), "#222", 1, 9),
            ...band("Cloud haze", hazeX, hazeUp, hazeLow, "rgba(0,140,0,0.3)", 8),
            ...band("Warm day cloud", warmDayX, warmDayUp, warmDayLow, "#00cc00", 8),
            crosses("IASI Descend (Day)", fromColumns(biasDayColumns, biasDayInner), "#00cc00", 3.5, 7.5),
            ...band("Cloud middle", midX, midUp, midLow, "rgba(0,105,0,0.55)", 7),
            ...band("Cloud core", coreX, coreUp, coreLow, "rgba(0,100,0,0.8)", 7),
            ...band("Warm night cloud", warmNightX, warmNightUp, warmNightLow, "#006400", 7),
            crosses("IASI Ascend (Night)", fromColumns(biasNightColumns, biasNightInner), "#006400", 3.5, 5),
            line("5 x SD upper", zip(curveX, spreadUp), "#00ff00", 1, 4),
            line("5 x SD lower", zip(curveX, spreadLow), "#00ff00", 1, 4),
            line("TB BIAS regression", zip(curveX, curveY), "#ff0000", 3, 2),
            line("Standard Radiance", zip(standardTb, standardY), "#ffb6c1", 2, 1)
        ]
    },
    options: baseOptions(10,
        { title: { display: true, text: "  Tb and Tb bias", color: "#111", fullSize: false, font: { family: titleFont, size: 34.7, weight: "normal" }, padding: { top: 17, bottom: 5.4 } } },
        xAxis(185, 320, biasXTicks, 75, "Hyper sounder Tb   ", { font: { family: titleFont, size: 29, lineHeight: 1 }, padding: { top: 0, bottom: 0 } }),
        yAxis(-6.5, 6.5, biasYTicks, 118, 5, ["Tb bias ", "(AHI - Hyper sounder Tb) "], { font: { family: titleFont, size: 29, lineHeight: "41px" }, padding: { top: 2.5, bottom: 0 } })
    ),
    plugins: [overlay(biasNotes, 394, 73.5, biasLegend, { x: 475.7, y: 271.7, w: 135, h: 75, mark: 487.7, text: 507, first: 13, step: 12.6 })]
});
</script>
</body>
</html>
